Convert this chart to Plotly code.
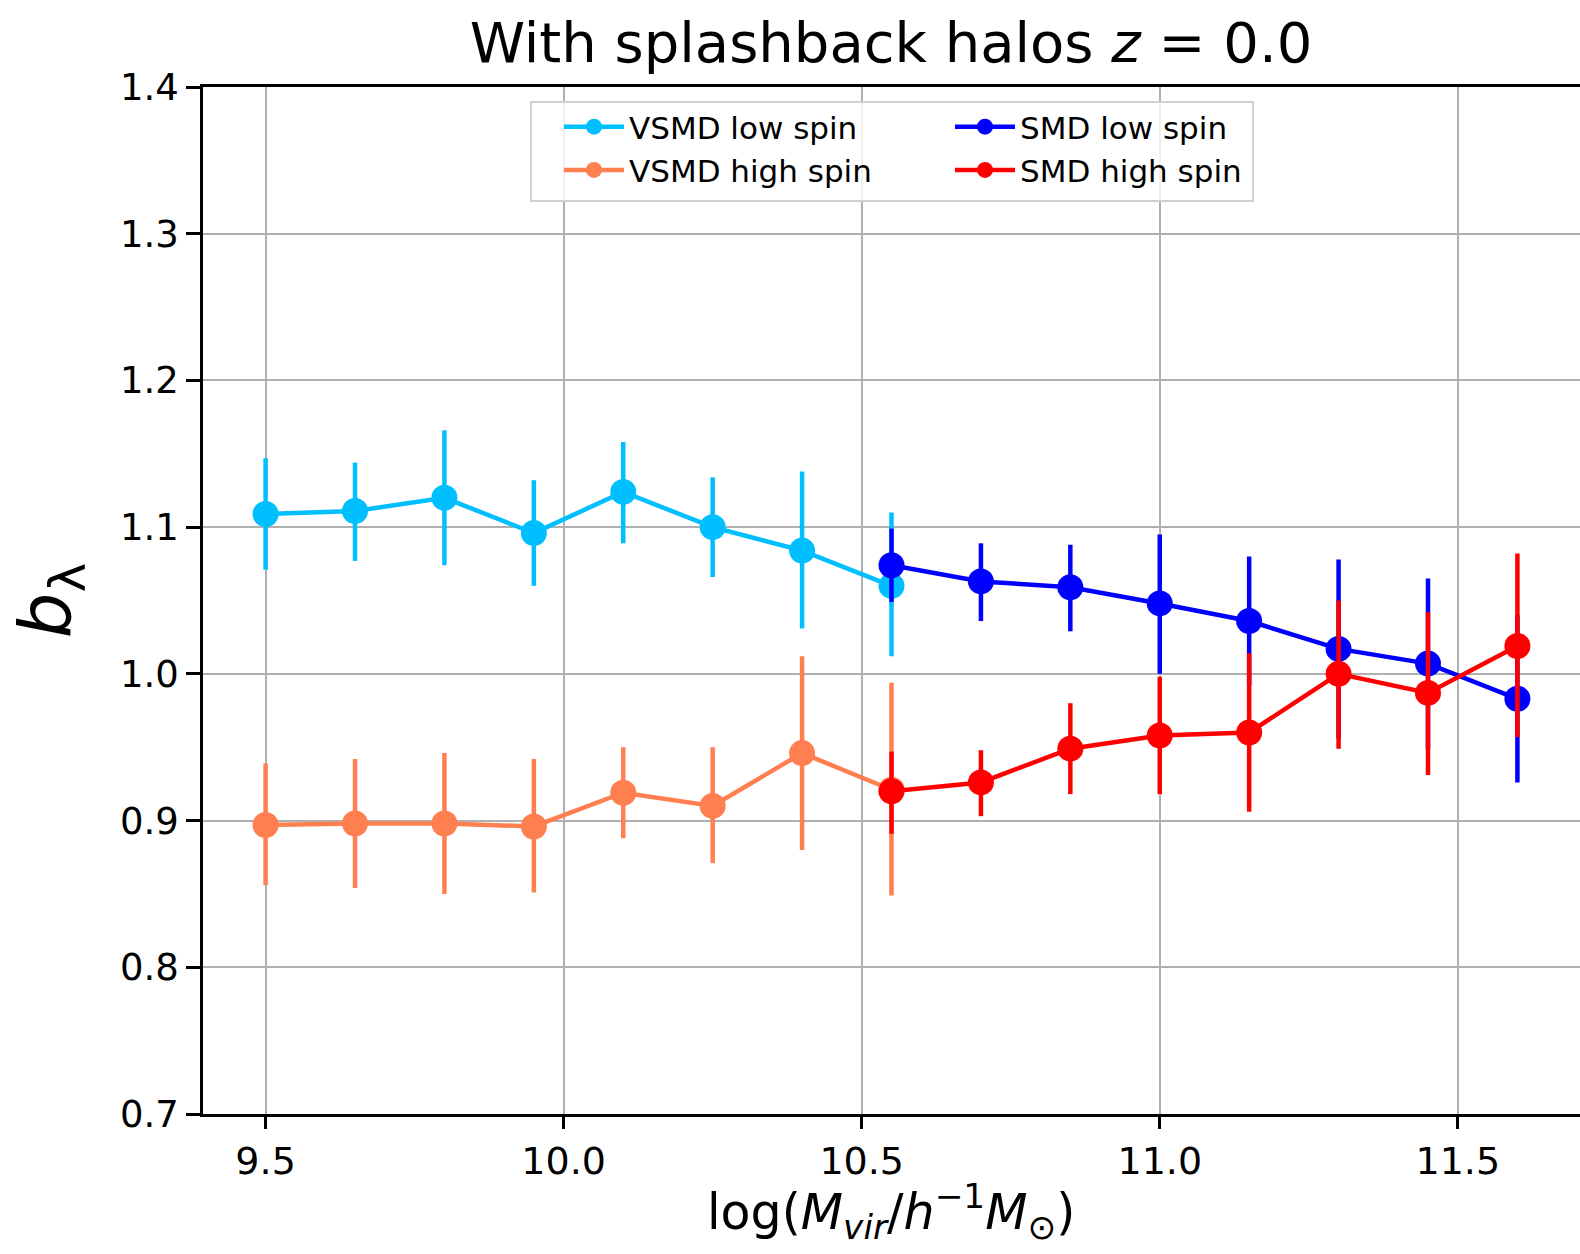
import plotly.graph_objects as go

# ---------------- data ----------------
x_vsmd = [9.5, 9.65, 9.8, 9.95, 10.1, 10.25, 10.4, 10.55]
vsmd_low = [1.109, 1.111, 1.120, 1.096, 1.124, 1.100, 1.084, 1.060]
vsmd_low_up = [1.147, 1.144, 1.166, 1.132, 1.158, 1.134, 1.138, 1.110]
vsmd_low_dn = [1.071, 1.077, 1.074, 1.060, 1.089, 1.066, 1.031, 1.012]

vsmd_high = [0.897, 0.898, 0.898, 0.896, 0.919, 0.910, 0.946, 0.921]
vsmd_high_up = [0.939, 0.942, 0.946, 0.942, 0.950, 0.950, 1.012, 0.994]
vsmd_high_dn = [0.856, 0.854, 0.850, 0.851, 0.888, 0.871, 0.880, 0.849]

x_smd = [10.55, 10.7, 10.85, 11.0, 11.15, 11.3, 11.45, 11.6]
smd_low = [1.074, 1.063, 1.059, 1.048, 1.036, 1.017, 1.007, 0.983]
smd_low_up = [1.099, 1.089, 1.088, 1.095, 1.080, 1.078, 1.065, 1.040]
smd_low_dn = [1.049, 1.036, 1.029, 1.000, 0.992, 0.956, 0.949, 0.926]

smd_high = [0.920, 0.926, 0.949, 0.958, 0.960, 1.000, 0.987, 1.019]
smd_high_up = [0.947, 0.948, 0.980, 0.998, 1.014, 1.050, 1.042, 1.082]
smd_high_dn = [0.891, 0.903, 0.918, 0.918, 0.906, 0.949, 0.931, 0.957]

x_ticks = [9.5, 10.0, 10.5, 11.0, 11.5]
y_ticks = [0.7, 0.8, 0.9, 1.0, 1.1, 1.2, 1.3, 1.4]

x_title = "log(<i>M</i><sub><i>vir</i></sub>/<i>h</i><sup>−1</sup><i>M</i><sub>⊙</sub>)"

series = [
    ("VSMD low spin", x_vsmd, vsmd_low, vsmd_low_up, vsmd_low_dn, "#00BFFF", "legend", 1),
    ("VSMD high spin", x_vsmd, vsmd_high, vsmd_high_up, vsmd_high_dn, "#FF7F50", "legend", 2),
    ("SMD low spin", x_smd, smd_low, smd_low_up, smd_low_dn, "#0000FF", "legend2", 1),
    ("SMD high spin", x_smd, smd_high, smd_high_up, smd_high_dn, "#FF0000", "legend2", 2),
]

FONT = "DejaVu Sans"
fig = go.Figure()
for name, xs, ys, up, dn, col, leg, rank in series:
    fig.add_trace(go.Scatter(
        x=xs, y=ys, name=name, mode="lines+markers",
        line=dict(color=col, width=4.5),
        marker=dict(color=col, size=26),
        error_y=dict(type="data", symmetric=False,
                     array=[u - v for u, v in zip(up, ys)],
                     arrayminus=[v - d for v, d in zip(ys, dn)],
                     color=col, thickness=4.5, width=0),
        legend=leg, legendrank=rank,
    ))

L, T, B = 203, 87, 140
W, H = 1580, 1254
pw, ph = W - L, H - T - B

def px_x(p):
    return (p - L) / pw

def px_y(p):
    return (H - B - p) / ph

legend_common = dict(
    font=dict(family=FONT, size=31, color="black"),
    bgcolor="rgba(0,0,0,0)", borderwidth=0,
    xanchor="left", yanchor="top", tracegroupgap=0,
    itemwidth=60,
)

fig.update_layout(
    width=W, height=H,
    margin=dict(l=L, r=0, t=T, b=B),
    paper_bgcolor="white", plot_bgcolor="white",
    font=dict(family=FONT, color="black"),
    title=dict(text="With splashback halos <i>z</i> = 0.0",
               font=dict(family=FONT, size=56, color="black"),
               x=px_x(891), xref="paper", xanchor="center",
               y=1 - 42 / H, yanchor="middle"),
    legend=dict(x=px_x(559), y=px_y(100), **legend_common),
    legend2=dict(x=px_x(950), y=px_y(100), **legend_common),
    xaxis=dict(
        range=[9.395, 11.705], tickvals=x_ticks,
        ticktext=[f"{v:.1f}" for v in x_ticks],
        showgrid=True, gridcolor="#b0b0b0", gridwidth=2,
        ticks="outside", ticklen=12, tickwidth=2.5, tickcolor="black",
        tickfont=dict(family=FONT, size=38, color="black"),
        showline=True, linecolor="black", linewidth=2.5, mirror=True,
        zeroline=False,
    ),
    yaxis=dict(
        range=[0.7, 1.4], tickvals=y_ticks,
        ticktext=[f"{v:.1f}" for v in y_ticks],
        showgrid=True, gridcolor="#b0b0b0", gridwidth=2,
        ticks="outside", ticklen=14, tickwidth=2.5, tickcolor="black",
        tickfont=dict(family=FONT, size=37, color="black"),
        showline=True, linecolor="black", linewidth=2.5, mirror=False,
        zeroline=False,
        title=dict(text="<i>b</i><sub>λ</sub>",
                   font=dict(family=FONT, size=72, color="black"), standoff=26),
    ),
    annotations=[dict(text=x_title, xref="paper", yref="paper",
                      x=px_x(891), y=px_y(1211), xanchor="center", yanchor="middle",
                      showarrow=False,
                      font=dict(family=FONT, size=49, color="black"))],
    shapes=[dict(type="rect", xref="paper", yref="paper",
                 x0=px_x(531), x1=px_x(1253), y0=px_y(201), y1=px_y(102),
                 line=dict(color="#d0d0d0", width=2),
                 fillcolor="rgba(255,255,255,0.8)", layer="above")],
)

fig.write_html("out.html")
